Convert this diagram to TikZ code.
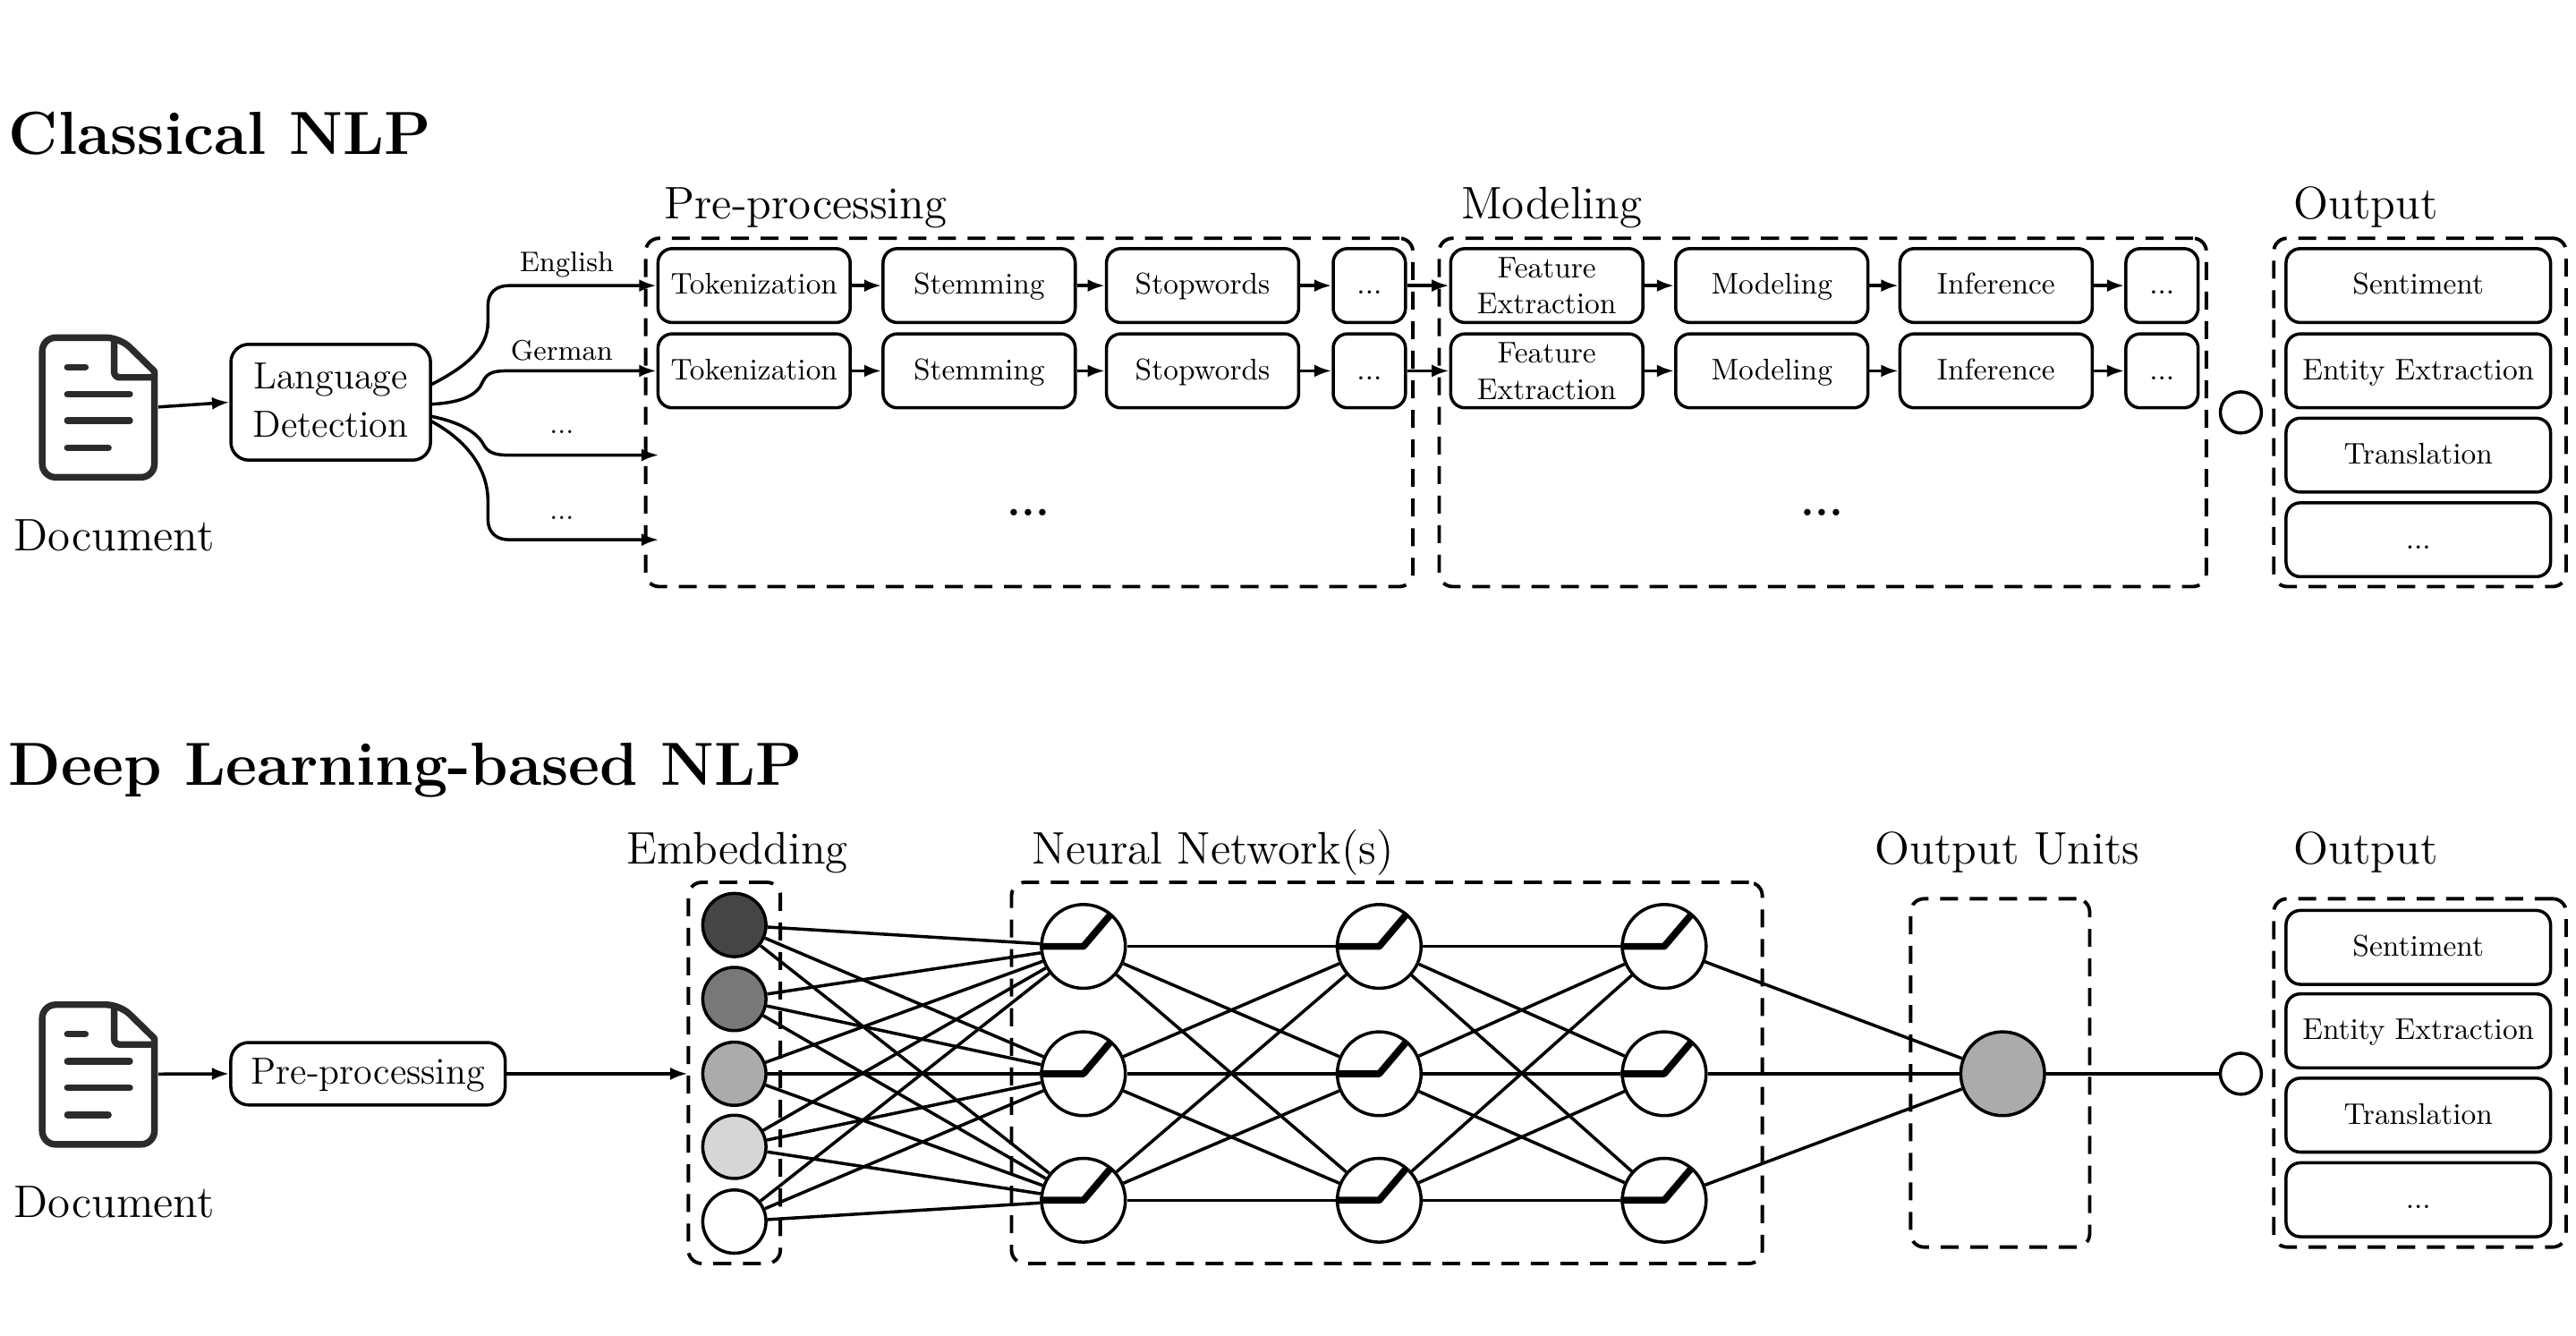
\documentclass[tikz,border=0pt]{standalone}
\usepackage{amsmath}
\usepackage{tikz}
\usetikzlibrary{positioning, calc, shapes, arrows.meta}
\newcommand{\un}{0.018361cm}
\newcommand{\featlabel}{\raisebox{-0.4pt}[0pt][0pt]{\begin{tabular}{@{}c@{}}Feature\\Extraction\end{tabular}}}

\begin{document}
\begin{tikzpicture}[x=\un, y=-\un, line join=round,
  stepbox/.style={draw, rounded corners=1.6mm, line width=1pt, minimum width=117*\un, minimum height=45*\un, inner sep=0pt, align=center, font=\fontsize{9.5}{11.5}\selectfont, execute at begin node={\rule[-2.95pt]{0pt}{11.5pt}}},
  morebox/.style={stepbox, minimum width=44*\un},
  outbox/.style={stepbox, minimum width=161*\un},
  textbox/.style={draw, rounded corners=2mm, line width=1pt, inner sep=0pt, align=center, font=\fontsize{12}{15.4}\selectfont},
  dashbox/.style={draw, rounded corners=1.5mm, line width=1.1pt, dash pattern=on 5.7pt off 3.7pt, inner sep=0pt},
  head/.style={anchor=base west, inner sep=0pt, font=\fontsize{14.5}{17}\selectfont},
  title/.style={anchor=base west, inner sep=0pt, font=\fontsize{19.35}{23}\selectfont\bfseries},
  lang/.style={inner sep=0pt, font=\fontsize{9}{11}\selectfont},
  flow/.style={line width=1pt, -{Latex[length=5.5pt,width=4pt]}},
  edge/.style={line width=1pt},
  unit/.style={circle, draw, line width=1pt, inner sep=0pt, minimum size=51*\un},
  embed/.style={unit, minimum size=38.5*\un},
  tiny/.style={unit, minimum size=25*\un},
  relu/.style={line width=2.2pt},
  icon/.style={line width=2.1pt, draw=black!83},
  iconline/.style={line width=2.1pt, draw=black!83, line cap=round}]
  \useasboundingbox (0,0) rectangle (1568,812.6);

  \node[title] (t0) at (5,94) {Classical NLP};
  \node[title] (t1) at (5,478) {Deep Learning-based NLP};
  \node[head] (h0) at (404,133) {Pre-processing};
  \node[head] (h1) at (889,133) {Modeling};
  \node[head] (h2) at (1396,133) {Output};
  \node[head] (h3) at (381,525.7) {Embedding};
  \node[head] (h4) at (628,525.7) {Neural Network(s)};
  \node[head] (h5) at (1141,525.7) {Output Units};
  \node[head] (h6) at (1396,525.7) {Output};

  \node[dashbox, minimum width=467*\un, minimum height=212*\un] (d0) at (626.5,251) {};
  \node[dashbox, minimum width=467*\un, minimum height=212*\un] (d1) at (1109.5,251) {};
  \node[dashbox, minimum width=178*\un, minimum height=212*\un] (d2) at (1473,251) {};
  \node[dashbox, minimum width=56*\un, minimum height=232*\un] (d3) at (447,653) {};
  \node[dashbox, minimum width=457*\un, minimum height=232*\un] (d4) at (844.2,653) {};
  \node[dashbox, minimum width=109*\un, minimum height=212*\un] (d5) at (1217.5,653) {};
  \node[dashbox, minimum width=178*\un, minimum height=212*\un] (d6) at (1473,653) {};

  \node[minimum width=72*\un, minimum height=89*\un, inner sep=0pt] (doc0) at (60,247.7) {};
  \node[minimum width=72*\un, minimum height=89*\un, inner sep=0pt] (doc1) at (60,653.7) {};
  \draw[icon] (94,226) [rounded corners=1.5mm] -- (94,290.5) -- (25.7,290.5) -- (25.7,205.5) -- (73,205.5) [sharp corners] -- cycle;
  \draw[icon, rounded corners=0.6mm] (69.5,205.5) -- (69.5,229.7) -- (94,229.7);
  \draw[iconline] (41,223.4) -- (52,223.4);
  \draw[iconline] (41,240) -- (79,240);
  \draw[iconline] (41,256) -- (79,256);
  \draw[iconline] (41,272.5) -- (66,272.5);
  \draw[icon] (94,632) [rounded corners=1.5mm] -- (94,696.5) -- (25.7,696.5) -- (25.7,611.5) -- (73,611.5) [sharp corners] -- cycle;
  \draw[icon, rounded corners=0.6mm] (69.5,611.5) -- (69.5,635.7) -- (94,635.7);
  \draw[iconline] (41,629.4) -- (52,629.4);
  \draw[iconline] (41,646) -- (79,646);
  \draw[iconline] (41,662) -- (79,662);
  \draw[iconline] (41,678.5) -- (66,678.5);
  \node[anchor=base, inner sep=0pt, font=\fontsize{14.5}{17}\selectfont] (l0) at (69.5,335.2) {Document};
  \node[anchor=base, inner sep=0pt, font=\fontsize{14.5}{17}\selectfont] (l1) at (69.5,741) {Document};

  \node[textbox, minimum width=121.5*\un, minimum height=70.5*\un] (ld) at (201.3,244.8) {Language\\Detection\rule[-1.6pt]{0pt}{0pt}};
  \node[textbox, minimum width=167*\un, minimum height=38*\un] (pp) at (224,653.5) {\rule{0pt}{9.2pt}Pre-processing};

  \node[stepbox] (a0) at (459,173.8) {Tokenization};
  \node[stepbox] (a1) at (596,173.8) {Stemming};
  \node[stepbox] (a2) at (732,173.8) {Stopwords};
  \node[morebox] (a3) at (833.5,173.8) {...};
  \node[stepbox] (a4) at (941.5,173.8) {\featlabel};
  \node[stepbox] (a5) at (1078.5,173.8) {Modeling};
  \node[stepbox] (a6) at (1215,173.8) {Inference};
  \node[morebox] (a7) at (1316,173.8) {...};
  \node[stepbox] (b0) at (459,225.7) {Tokenization};
  \node[stepbox] (b1) at (596,225.7) {Stemming};
  \node[stepbox] (b2) at (732,225.7) {Stopwords};
  \node[morebox] (b3) at (833.5,225.7) {...};
  \node[stepbox] (b4) at (941.5,225.7) {\featlabel};
  \node[stepbox] (b5) at (1078.5,225.7) {Modeling};
  \node[stepbox] (b6) at (1215,225.7) {Inference};
  \node[morebox] (b7) at (1316,225.7) {...};
  \node[inner sep=0pt, font=\Large\bfseries] (m0) at (626,312) {...};
  \node[inner sep=0pt, font=\Large\bfseries] (m1) at (1109,312) {...};

  \node[outbox] (o0) at (1472,173.8) {Sentiment};
  \node[outbox] (o1) at (1472,225.7) {Entity Extraction};
  \node[outbox] (o2) at (1472,277) {Translation};
  \node[outbox] (o3) at (1472,328.5) {...};
  \node[outbox] (p0) at (1472,576.6) {Sentiment};
  \node[outbox] (p1) at (1472,627.4) {Entity Extraction};
  \node[outbox] (p2) at (1472,678.7) {Translation};
  \node[outbox] (p3) at (1472,730.2) {...};

  \node[tiny] (c0) at (1364,251) {};
  \node[tiny] (c1) at (1364,653.5) {};

  \node[lang] (g0) at (345,161) {English};
  \node[lang] (g1) at (342,213.5) {German};
  \node[lang] (g2) at (342,263) {...};
  \node[lang] (g3) at (342,315) {...};

  \coordinate (s0) at (262.6,234);
  \coordinate (s1) at (262.6,246);
  \coordinate (s2) at (262.6,253.4);
  \coordinate (s3) at (262.6,256.4);
  \coordinate (f2) at (401,277);
  \coordinate (f3) at (401,328.5);
  \coordinate (f4) at (418.5,653.5);

  \draw[flow] (doc0.east) -- (ld.west);
  \draw[flow] (s0) .. controls (284,223) and (297,212) .. (297,196) -- (297,186) .. controls (297,178) and (302,173.8) .. (310,173.8) -- (a0.west);
  \draw[flow] (s1) .. controls (282,245) and (291,240) .. (294,232) .. controls (297,226) and (302,225.7) .. (310,225.7) -- (b0.west);
  \draw[flow] (s2) .. controls (280,257) and (290,263) .. (294,270) .. controls (297,276) and (302,277) .. (310,277) -- (f2);
  \draw[flow] (s3) .. controls (284,268) and (297,285) .. (297,305) -- (297,316) .. controls (297,324) and (302,328.5) .. (310,328.5) -- (f3);
  \draw[flow] (a0) -- (a1);
  \draw[flow] (a1) -- (a2);
  \draw[flow] (a2) -- (a3);
  \draw[flow] (a3) -- (a4);
  \draw[flow] (a4) -- (a5);
  \draw[flow] (a5) -- (a6);
  \draw[flow] (a6) -- (a7);
  \draw[flow] (b0) -- (b1);
  \draw[flow] (b1) -- (b2);
  \draw[flow] (b2) -- (b3);
  \draw[flow] (b3) -- (b4);
  \draw[flow] (b4) -- (b5);
  \draw[flow] (b5) -- (b6);
  \draw[flow] (b6) -- (b7);

  \draw[flow] (doc1.east) -- (pp.west);
  \draw[flow] (pp.east) -- (f4);

  \node[embed, fill=black!73] (e0) at (447,563) {};
  \node[embed, fill=black!53] (e1) at (447,608) {};
  \node[embed, fill=black!33] (e2) at (447,653.5) {};
  \node[embed, fill=black!16] (e3) at (447,698) {};
  \node[embed, fill=white] (e4) at (447,743.5) {};
  \node[unit] (n0) at (659.5,576) {};
  \node[unit] (n1) at (659.5,653.5) {};
  \node[unit] (n2) at (659.5,730.5) {};
  \node[unit] (n3) at (839.5,576) {};
  \node[unit] (n4) at (839.5,653.5) {};
  \node[unit] (n5) at (839.5,730.5) {};
  \node[unit] (n6) at (1013,576) {};
  \node[unit] (n7) at (1013,653.5) {};
  \node[unit] (n8) at (1013,730.5) {};
  \node[unit, fill=black!33] (u0) at (1219,653.5) {};

  \draw[edge] (e0) -- (n0);
  \draw[edge] (e0) -- (n1);
  \draw[edge] (e0) -- (n2);
  \draw[edge] (e1) -- (n0);
  \draw[edge] (e1) -- (n1);
  \draw[edge] (e1) -- (n2);
  \draw[edge] (e2) -- (n0);
  \draw[edge] (e2) -- (n1);
  \draw[edge] (e2) -- (n2);
  \draw[edge] (e3) -- (n0);
  \draw[edge] (e3) -- (n1);
  \draw[edge] (e3) -- (n2);
  \draw[edge] (e4) -- (n0);
  \draw[edge] (e4) -- (n1);
  \draw[edge] (e4) -- (n2);
  \draw[edge] (n0) -- (n3);
  \draw[edge] (n0) -- (n4);
  \draw[edge] (n0) -- (n5);
  \draw[edge] (n1) -- (n3);
  \draw[edge] (n1) -- (n4);
  \draw[edge] (n1) -- (n5);
  \draw[edge] (n2) -- (n3);
  \draw[edge] (n2) -- (n4);
  \draw[edge] (n2) -- (n5);
  \draw[edge] (n3) -- (n6);
  \draw[edge] (n3) -- (n7);
  \draw[edge] (n3) -- (n8);
  \draw[edge] (n4) -- (n6);
  \draw[edge] (n4) -- (n7);
  \draw[edge] (n4) -- (n8);
  \draw[edge] (n5) -- (n6);
  \draw[edge] (n5) -- (n7);
  \draw[edge] (n5) -- (n8);
  \draw[edge] (n6) -- (u0);
  \draw[edge] (n7) -- (u0);
  \draw[edge] (n8) -- (u0);
  \draw[edge] (u0) -- (c1);

  \draw[relu] (n0.west) -- (n0.center) -- ++(17,-20);
  \draw[relu] (n1.west) -- (n1.center) -- ++(17,-20);
  \draw[relu] (n2.west) -- (n2.center) -- ++(17,-20);
  \draw[relu] (n3.west) -- (n3.center) -- ++(17,-20);
  \draw[relu] (n4.west) -- (n4.center) -- ++(17,-20);
  \draw[relu] (n5.west) -- (n5.center) -- ++(17,-20);
  \draw[relu] (n6.west) -- (n6.center) -- ++(17,-20);
  \draw[relu] (n7.west) -- (n7.center) -- ++(17,-20);
  \draw[relu] (n8.west) -- (n8.center) -- ++(17,-20);
\end{tikzpicture}
\end{document}
